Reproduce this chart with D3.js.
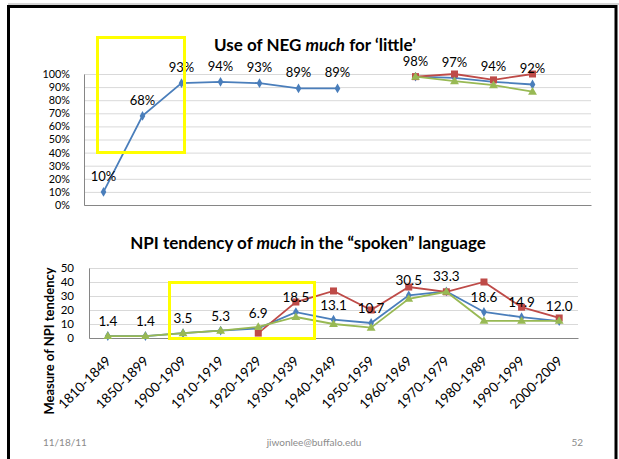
<!DOCTYPE html>
<html><head><meta charset="utf-8">
<script src="https://cdn.jsdelivr.net/npm/d3@7"></script>
<style>
html,body{margin:0;padding:0;background:#fff;}
svg{display:block;font-family:Lato,"Open Sans",sans-serif;}
</style></head>
<body>
<svg id="c" width="619" height="459"></svg>
<script>
const categories = ["1810-1849","1850-1899","1900-1909","1910-1919","1920-1929","1930-1939","1940-1949","1950-1959","1960-1969","1970-1979","1980-1989","1990-1999","2000-2009"];
// Top chart (percent)
const topBlue  = [10,68,93,94,93,89,89,null,98,97,94,92,null];
const topRed   = [null,null,null,null,null,null,null,null,98,100,95.5,100,null];
const topGreen = [null,null,null,null,null,null,null,null,98,94.5,91.5,86.5,null];
const topTicks = [0,10,20,30,40,50,60,70,80,90,100];
// Bottom chart (NPI tendency)
const botBlue  = [1.4,1.4,3.5,5.3,6.9,18.5,13.1,10.7,30.5,33.3,18.6,14.9,12.0];
const botRed   = [null,null,null,null,3.5,25.7,33.6,20,36.4,33,40,22,14.3];
const botGreen = [1.4,1.4,3.5,5.3,7.9,15,10,7.4,28,33,12.3,12.3,12.3];
const botTicks = [0,10,20,30,40,50];

const titleTop = ["Use of NEG ", "much", " for \u2018little\u2019"];
const titleBot = ["NPI tendency of ", "much", " in the \u201cspoken\u201d language"];
const yTitleBot = "Measure of NPI tendency";
const footer = ["11/18/11","jiwonlee@buffalo.edu","52"];

const colors = {blue:"#4A7EBB", red:"#BE4B48", green:"#98B954"};
const svg = d3.select("#c");

// slide frame
svg.append("line").attr("x1",8).attr("x2",619).attr("y1",4).attr("y2",4).attr("stroke","#aaa").attr("stroke-width",1);
svg.append("rect").attr("x",8.5).attr("y",6.5).attr("width",607.5).attr("height",470)
  .attr("fill","none").attr("stroke","#000").attr("stroke-width",3);

function drawMarker(g, type, color, x, y){
  if(type==="diamond"){
    g.append("path").attr("d",d3.symbol(d3.symbolDiamond,28)()).attr("transform",`translate(${x},${y})`).attr("fill",color);
  } else if(type==="square"){
    g.append("rect").attr("x",x-3.5).attr("y",y-3.5).attr("width",7).attr("height",7).attr("fill",color);
  } else {
    g.append("path").attr("d",d3.symbol(d3.symbolTriangle,34)()).attr("transform",`translate(${x},${y+0.5})`).attr("fill",color);
  }
}

function series(g, x, y, data, color, marker){
  const pts = data.map((v,i)=>({c:categories[i], v}));
  const line = d3.line().defined(d=>d.v!=null).x(d=>x(d.c)+x.bandwidth()/2).y(d=>y(d.v));
  g.append("path").datum(pts).attr("d",line).attr("fill","none").attr("stroke",color).attr("stroke-width",1.8);
  pts.filter(d=>d.v!=null).forEach(d=>drawMarker(g, marker, color, x(d.c)+x.bandwidth()/2, y(d.v)));
}

function title(text, cx, y){
  const t = svg.append("text").attr("x",cx).attr("y",y).attr("text-anchor","middle")
    .attr("font-size",17).attr("font-weight","bold").attr("fill","#000");
  t.append("tspan").text(text[0]);
  t.append("tspan").attr("font-style","italic").text(text[1]);
  t.append("tspan").text(text[2]);
}

// ---------- TOP CHART ----------
{
  const x = d3.scaleBand().domain(categories).range([84,591]);
  const y = d3.scaleLinear().domain([0,100]).range([205,74]);
  const g = svg.append("g");
  g.append("g").attr("transform","translate(84,0)")
    .call(d3.axisLeft(y).tickValues(topTicks).tickSize(-507).tickFormat(""))
    .call(s=>s.select(".domain").remove())
    .call(s=>s.selectAll("line").attr("stroke","#D9D9D9"));
  g.append("g").attr("transform","translate(84,0)")
    .call(d3.axisLeft(y).tickValues(topTicks).tickSize(0).tickPadding(14).tickFormat(d=>d+"%"))
    .call(s=>s.select(".domain").attr("stroke","#868686"))
    .call(s=>s.selectAll("text").attr("font-size",10.8).attr("font-family","Lato").attr("fill","#000"));
  g.append("g").attr("transform","translate(0,205)")
    .call(d3.axisBottom(x).tickSize(0).tickFormat(""))
    .call(s=>s.select(".domain").attr("stroke","#868686"));
  series(g,x,y,topBlue,colors.blue,"diamond");
  series(g,x,y,topRed,colors.red,"square");
  series(g,x,y,topGreen,colors.green,"triangle");
  topBlue.forEach((v,i)=>{ if(v==null) return;
    g.append("text").attr("x",x(categories[i])+x.bandwidth()/2).attr("y",y(v)-11)
      .attr("text-anchor","middle").attr("font-size",13).attr("fill","#000").text(v+"%");
  });
  // yellow highlight
  svg.append("rect").attr("x",97.5).attr("y",37.5).attr("width",87).attr("height",115)
    .attr("fill","none").attr("stroke","#FFFF00").attr("stroke-width",3);
  title(titleTop, 315, 51);
}

// ---------- BOTTOM CHART ----------
{
  const x = d3.scaleBand().domain(categories).range([89,578]);
  const y = d3.scaleLinear().domain([0,50]).range([338,268]);
  const g = svg.append("g");
  g.append("g").attr("transform","translate(89,0)")
    .call(d3.axisLeft(y).tickValues(botTicks).tickSize(-489).tickFormat(""))
    .call(s=>s.select(".domain").remove())
    .call(s=>s.selectAll("line").attr("stroke","#D9D9D9"));
  g.append("g").attr("transform","translate(89,0)")
    .call(d3.axisLeft(y).tickValues(botTicks).tickSize(0).tickPadding(15))
    .call(s=>s.select(".domain").attr("stroke","#868686"))
    .call(s=>s.selectAll("text").attr("font-size",11.5).attr("font-family","Lato").attr("fill","#000"));
  g.append("g").attr("transform","translate(0,338)")
    .call(d3.axisBottom(x).tickSize(0).tickPadding(0))
    .call(s=>s.select(".domain").attr("stroke","#868686"))
    .call(s=>s.selectAll("text").attr("font-size",13.5).attr("font-family","Lato").attr("fill","#000")
      .attr("text-anchor","end").attr("dy",0).attr("y",0)
      .attr("transform","translate(4,24) rotate(-45)"));
  series(g,x,y,botBlue,colors.blue,"diamond");
  series(g,x,y,botRed,colors.red,"square");
  series(g,x,y,botGreen,colors.green,"triangle");
  botBlue.forEach((v,i)=>{
    g.append("text").attr("x",x(categories[i])+x.bandwidth()/2).attr("y",y(v)-10)
      .attr("text-anchor","middle").attr("font-size",13.5).attr("fill","#000").text(v.toFixed(1));
  });
  svg.append("text").attr("transform","translate(54,341) rotate(-90)").attr("text-anchor","middle")
    .attr("font-size",13).attr("font-weight","bold").text(yTitleBot);
  svg.append("rect").attr("x",169.5).attr("y",282.5).attr("width",145).attr("height",56)
    .attr("fill","none").attr("stroke","#FFFF00").attr("stroke-width",3);
  title(titleBot, 308, 249);
}

// footer
svg.append("text").attr("x",43).attr("y",446).attr("font-size",10).attr("fill","#8B8B8B").text(footer[0]);
svg.append("text").attr("x",314).attr("y",446).attr("text-anchor","middle").attr("font-size",10).attr("fill","#8B8B8B").text(footer[1]);
svg.append("text").attr("x",583).attr("y",446).attr("text-anchor","end").attr("font-size",10).attr("fill","#8B8B8B").text(footer[2]);
</script>
</body></html>
